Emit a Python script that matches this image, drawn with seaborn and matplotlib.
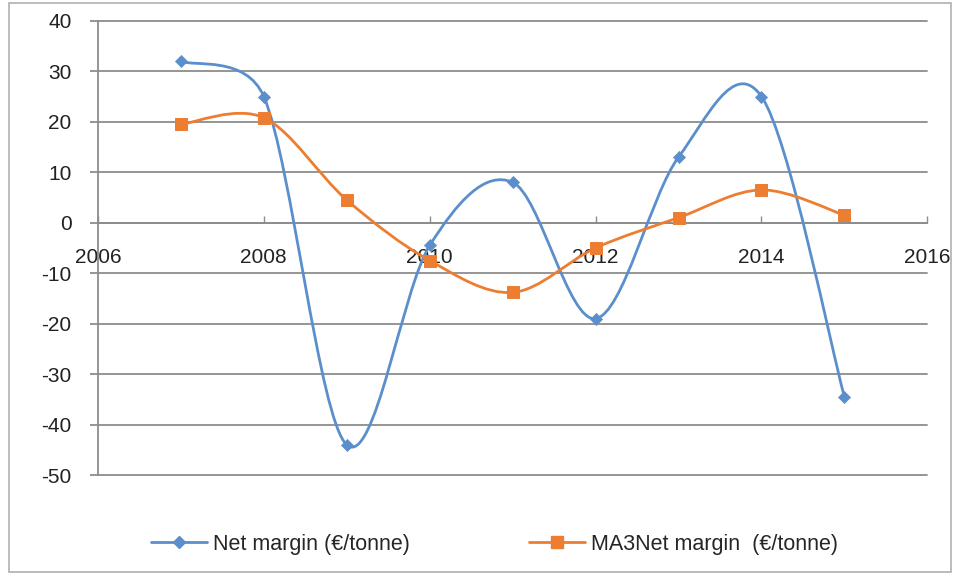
import numpy as np
import pandas as pd
import seaborn as sns
import matplotlib.pyplot as plt
from matplotlib.path import Path
from matplotlib.patches import PathPatch, Rectangle
from matplotlib.lines import Line2D

# Data
years = [2007, 2008, 2009, 2010, 2011, 2012, 2013, 2014, 2015]
net_margin = [32, 25, -44, -4.5, 8, -19, 13, 25, -34.5]
ma3_net_margin = [19.5, 20.8, 4.5, -7.5, -13.8, -5, 1, 6.5, 1.5]

label_net = "Net margin (\u20ac/tonne)"
label_ma3 = "MA3Net margin  (\u20ac/tonne)"
blue = "#5B8FCC"
orange = "#ED7D31"
grid_col = "#8C8C8C"


def smooth_path(ax, xs, ys):
    # Excel-style smoothed line: cubic Bezier segments, control points
    # worked out in screen space and limited to half of each chord
    pts = ax.transData.transform(np.column_stack([xs, ys]).astype(float))
    n = len(pts)
    verts = [pts[0]]
    codes = [Path.MOVETO]
    for i in range(n - 1):
        p0 = pts[i - 1] if i > 0 else pts[i]
        p1 = pts[i]
        p2 = pts[i + 1]
        p3 = pts[i + 2] if i + 2 < n else pts[i + 1]
        d12 = np.hypot(*(p2 - p1))
        d02 = np.hypot(*(p2 - p0))
        d13 = np.hypot(*(p3 - p1))
        f0 = 1 / 6 if d02 / 6 < d12 / 2 else d12 / d02 / 2
        f1 = 1 / 6 if d13 / 6 < d12 / 2 else d12 / d13 / 2
        verts += [p1 + f0 * (p2 - p0), p2 - f1 * (p3 - p1), p2]
        codes += [Path.CURVE4] * 3
    verts = ax.transData.inverted().transform(np.array(verts))
    return Path(verts, codes)


df = pd.DataFrame({"year": years, "net": net_margin, "ma3": ma3_net_margin})

sns.set_theme(style="white")
plt.rcParams["font.family"] = ["Liberation Sans", "DejaVu Sans"]
plt.rcParams["axes.unicode_minus"] = False

fig = plt.figure(figsize=(9.6, 5.78), dpi=100)
ax = fig.add_axes([0.102, 0.178, 0.864, 0.786])

ax.set_xlim(2006, 2016)
ax.set_ylim(-50, 40)

for col, color in [("net", blue), ("ma3", orange)]:
    ax.add_patch(PathPatch(smooth_path(ax, df["year"], df[col]), facecolor="none",
                           edgecolor=color, lw=2.0, zorder=3))

sns.scatterplot(data=df, x="year", y="net", marker="D", s=38, color=blue,
                edgecolor=blue, ax=ax, zorder=4)
sns.scatterplot(data=df, x="year", y="ma3", marker="s", s=75, color=orange,
                edgecolor=orange, ax=ax, zorder=4)

ax.set_xlim(2006, 2016)
ax.set_ylim(-50, 40)
ax.set_xticks(range(2006, 2017, 2))
ax.set_yticks(range(-50, 41, 10))
ax.yaxis.grid(True, color=grid_col, lw=1.3)
for gl in ax.get_ygridlines():
    gl.set_clip_on(False)
ax.set_xlabel("")
ax.set_ylabel("")

for side in ["top", "right"]:
    ax.spines[side].set_visible(False)
ax.spines["bottom"].set_position(("data", 0))
ax.spines["bottom"].set_color(grid_col)
ax.spines["bottom"].set_linewidth(1.3)
ax.spines["left"].set_color(grid_col)
ax.spines["left"].set_linewidth(1.3)

ax.tick_params(axis="y", left=True, length=6, width=1.3, color=grid_col,
               pad=13, labelsize=15, labelcolor="#222222")
ax.tick_params(axis="x", bottom=True, direction="in", length=5, width=1.0,
               color=grid_col, pad=18, labelsize=15, labelcolor="#222222")

handles = [
    Line2D([], [], color=blue, lw=2.0, marker="D", markersize=6),
    Line2D([], [], color=orange, lw=2.0, marker="s", markersize=8),
]
fig.legend(handles, [label_net, label_ma3], loc="center", ncol=2,
           bbox_to_anchor=(0.515, 0.058), frameon=False, fontsize=15.5,
           handlelength=2.6, handletextpad=0.3, columnspacing=5.5)

fig.patches.append(Rectangle((0.009, 0.01), 0.982, 0.985, transform=fig.transFigure,
                             fill=False, edgecolor="#B0B0B0", lw=1.2))

fig.savefig("out.png", dpi=100)
